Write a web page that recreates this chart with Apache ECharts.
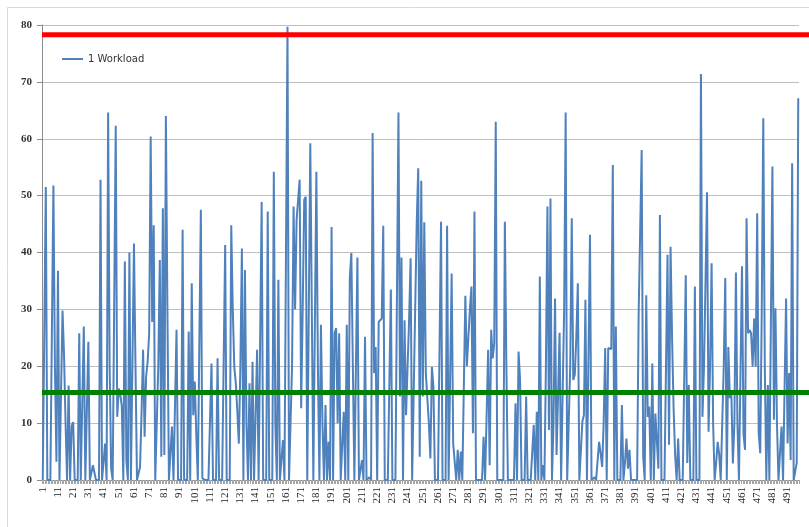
<!DOCTYPE html>
<html>
<head>
<meta charset="utf-8">
<script src="https://cdn.jsdelivr.net/npm/echarts@6/dist/echarts.min.js"></script>
<style>
  html, body { margin: 0; padding: 0; background: #fff; }
  #chart { width: 809px; height: 527px; }
</style>
</head>
<body>
<div id="chart"></div>
<script>
// values, one per sample (1..498)
let workload = [
  0, 0, 51.5, 0, 0, 0, 0, 51.8, 20, 3.2, 36.8, 0, 0, 29.8, 22, 10, 0, 16.6, 0, 9.5,
  10.2, 0, 0, 0, 25.8, 0, 0, 27, 0, 0, 24.3, 0, 0, 2.6, 2.6, 0, 0, 0, 52.8, 0,
  0, 6.4, 0, 64.6, 20, 2, 0, 0, 62.3, 11.1, 16.1, 15, 13, 0, 38.4, 3.5, 0, 40, 0, 0,
  41.6, 20, 0, 0, 2.3, 12, 22.9, 7.6, 18.2, 20.8, 25.8, 60.4, 27.8, 44.8, 0, 0, 20, 38.7, 4.1, 47.8,
  4.4, 64, 30, 0, 0, 9.4, 0, 0, 26.4, 0, 0, 0, 44, 0, 0, 0, 26.1, 0, 34.6, 11.4,
  17.3, 8, 0, 0, 47.5, 0.3, 0, 0, 0, 0, 0, 20.5, 0, 0, 0, 21.4, 0, 0, 0, 0,
  41.3, 0, 0, 0, 44.8, 30, 19.9, 17, 12, 6.4, 20, 40.7, 0, 36.9, 10, 0, 17, 0, 20.8, 0,
  0, 22.9, 0, 0, 48.9, 0, 0, 0, 47.2, 0, 0, 0, 54.2, 10, 0, 35.2, 0, 0, 7, 0,
  0, 79.7, 0, 0, 20, 48.1, 30, 45.8, 45.7, 52.8, 12.6, 30, 49.3, 49.8, 0, 0, 59.2, 30, 0, 0,
  54.2, 20, 0, 27.3, 10, 0, 13.2, 0, 6.7, 0, 44.5, 0, 25.8, 26.7, 10, 25.8, 0, 0, 12, 0,
  27.3, 0, 35.5, 39.9, 20, 0, 0, 39.1, 0, 0, 3.5, 0, 25.2, 0, 0, 0.5, 0, 61, 18.8, 23.4,
  0, 27.8, 28, 28.4, 44.7, 0, 0, 0, 0, 33.5, 0, 0, 0, 0, 64.6, 14.7, 39.1, 0, 28.1, 11.4,
  20, 28.1, 39, 0, 15, 30, 45, 54.8, 4.1, 52.6, 14.7, 45.3, 18.8, 18.5, 10, 3.8, 19.9, 16.4, 0, 0,
  0, 0, 45.4, 0, 0, 0, 44.7, 0, 0, 36.3, 6.4, 6.2, 0, 5.3, 0, 5, 0, 0, 32.4, 20,
  25, 30, 34, 8.2, 47.2, 0, 0, 0, 0, 0, 7.6, 0, 0, 22.9, 2.6, 26.4, 21.4, 24, 63, 0,
  0, 0, 0, 0, 45.4, 20, 0, 0, 0, 0, 0, 13.5, 0, 22.6, 17.6, 0, 0, 0, 14.7, 0,
  0, 0, 0, 9.7, 0, 12, 0, 35.8, 0, 2.6, 0, 20, 48.1, 8.8, 49.5, 0, 10, 31.9, 4.4, 15,
  25.9, 0, 0, 30, 64.6, 0, 0, 20, 46, 17.6, 18.5, 25, 34.6, 0, 0, 10.3, 11.4, 31.7, 0, 0,
  43.1, 0, 0, 0.5, 0, 0, 6.7, 4.7, 2.3, 10, 23.2, 0, 23.2, 23.4, 23, 55.4, 0, 27, 0, 0,
  0, 13.2, 0, 3, 7.3, 2, 5.3, 0, 0, 0, 0, 0, 29, 29.3, 58, 4.1, 0, 32.5, 11.1, 12.9,
  0, 20.5, 0, 11.7, 11.7, 2, 46.6, 0, 0, 0, 0, 39.6, 6.2, 41, 25, 12.6, 4.4, 0, 7.3, 0,
  0, 0, 0, 36, 3, 16.7, 0, 0, 0, 34, 0, 0, 0, 71.4, 11.1, 20, 35, 50.6, 8.5, 20,
  38.1, 10, 0, 3, 6.7, 4.5, 0, 0, 20, 35.5, 0, 23.4, 14.4, 15.2, 2.9, 10, 36.5, 10, 0, 0,
  37.6, 8, 5.3, 46, 25.8, 26.4, 25.8, 19.9, 28.4, 19.9, 46.9, 8.2, 4.7, 30, 63.6, 20, 0, 16.7, 0, 0,
  55.1, 10.6, 30.2, 10, 0, 0, 9.4, 0, 0, 31.9, 6.4, 18.8, 3.5, 55.7, 0, 0, 3, 67.1
];

// sample numbers on the x axis
let samples = workload.map((v, i) => String(i + 1));

// the two threshold levels
let redLevel = [[0, 78.3], [1, 78.3]];
let greenLevel = [[0, 15.4], [1, 15.4]];

let yTicks = [0, 10, 20, 30, 40, 50, 60, 70, 80];

var myChart = echarts.init(document.getElementById("chart"));

var option = {
  backgroundColor: "#fff",
  animation: false,
  graphic: [
    {
      type: "rect",
      left: 5,
      top: 5,
      shape: { width: 900, height: 700 },
      style: { fill: "none", stroke: "#d9d9d9", lineWidth: 1 },
      silent: true,
    },
  ],
  legend: {
    left: 57,
    top: 49,
    data: ["1 Workload"],
    icon: "rect",
    itemWidth: 21,
    itemHeight: 2,
    itemGap: 4,
    textStyle: { fontFamily: "DejaVu Sans", fontSize: 10, color: "#333" },
  },
  grid: [
    { left: 42, right: 10, top: 25, bottom: 47 },
    { left: 42, right: 0, top: 25, bottom: 47 },
  ],
  xAxis: [
    {
      type: "category",
      gridIndex: 0,
      data: samples,
      boundaryGap: true,
      axisLine: { lineStyle: { color: "#8c8c8c" } },
      axisTick: {
        show: true,
        interval: 0,
        length: 4,
        lineStyle: { color: "#a6a6a6" },
      },
      axisLabel: {
        interval: 9,
        rotate: 90,
        margin: 7,
        fontFamily: "Liberation Serif",
        fontSize: 11,
        color: "#222",
      },
      splitLine: { show: false },
    },
    {
      type: "value",
      gridIndex: 1,
      min: 0,
      max: 1,
      show: false,
    },
  ],
  yAxis: [
    {
      type: "value",
      gridIndex: 0,
      min: yTicks[0],
      max: yTicks[yTicks.length - 1],
      interval: 10,
      axisLine: { show: true, lineStyle: { color: "#8c8c8c" } },
      axisTick: { show: true, length: 5, lineStyle: { color: "#8c8c8c" } },
      axisLabel: {
        margin: 10,
        fontFamily: "Liberation Serif",
        fontSize: 11,
        fontWeight: "bold",
        color: "#333",
      },
      splitLine: { lineStyle: { color: "#bfbfbf" } },
    },
    {
      type: "value",
      gridIndex: 1,
      min: yTicks[0],
      max: yTicks[yTicks.length - 1],
      show: false,
    },
  ],
  series: [
    {
      name: "1 Workload",
      type: "line",
      xAxisIndex: 0,
      yAxisIndex: 0,
      data: workload,
      showSymbol: false,
      color: "#4f81bd",
      lineStyle: { width: 2, color: "#4f81bd" },
      z: 2,
    },
    {
      name: "red",
      type: "line",
      xAxisIndex: 1,
      yAxisIndex: 1,
      data: redLevel,
      showSymbol: false,
      lineStyle: { width: 5, color: "#ff0000" },
      z: 5,
    },
    {
      name: "green",
      type: "line",
      xAxisIndex: 1,
      yAxisIndex: 1,
      data: greenLevel,
      showSymbol: false,
      lineStyle: { width: 5, color: "#008000" },
      z: 5,
    },
  ],
};

option && myChart.setOption(option);
</script>
</body>
</html>
